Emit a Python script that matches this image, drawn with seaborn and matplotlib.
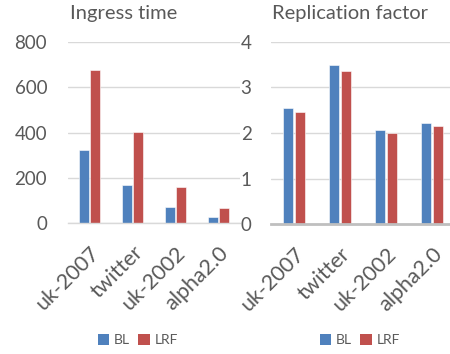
import matplotlib
matplotlib.use("Agg")
import matplotlib.pyplot as plt
import seaborn as sns
import pandas as pd
from matplotlib.patches import Patch

categories = ["uk-2007", "twitter", "uk-2002", "alpha2.0"]
series = ["BL", "LRF"]
ingress_bl = [321, 167, 71, 28]
ingress_lrf = [676, 402, 158, 65]
repl_bl = [2.55, 3.48, 2.07, 2.23]
repl_lrf = [2.45, 3.36, 1.99, 2.15]
ingress_ticks = [0, 200, 400, 600, 800]
repl_ticks = [0, 1, 2, 3, 4]
titles = ["Ingress time", "Replication factor"]

colors = {"BL": "#4F81BD", "LRF": "#C0504D"}
text_col = "#595959"
grid_col = "#D9D9D9"

sns.set_theme(style="white")
plt.rcParams["font.family"] = ["Lato", "DejaVu Sans"]

def make_df(bl, lrf):
    return pd.DataFrame({
        "cat": categories * 2,
        "series": ["BL"] * len(categories) + ["LRF"] * len(categories),
        "val": list(bl) + list(lrf),
    })

fig = plt.figure(figsize=(4.5, 3.54), dpi=100)
ax1 = fig.add_axes([68/450, 1-223/354, (240-68)/450, (223-42)/354])
ax2 = fig.add_axes([271/450, 1-224.3/354, (455-271)/450, (224.3-41.7)/354])

for ax, bl, lrf, ticks, title, tx, pad, basecol, basew in [
    (ax1, ingress_bl, ingress_lrf, ingress_ticks, titles[0], 70, 15, grid_col, 1.0),
    (ax2, repl_bl, repl_lrf, repl_ticks, titles[1], 272, 14, "#BFBFBF", 2.0),
]:
    df = make_df(bl, lrf)
    sns.barplot(data=df, x="cat", y="val", hue="series", palette=colors,
                saturation=1, width=0.52, gap=0.12, ax=ax, legend=False,
                edgecolor="white", linewidth=0.4, zorder=3)
    ax.set_ylim(ticks[0], ticks[-1])
    ax.set_xlim(-0.5, 3.5)
    ax.set_yticks(ticks)
    ax.set_xlabel("")
    ax.set_ylabel("")
    for s in ["top", "right", "left"]:
        ax.spines[s].set_visible(False)
    ax.spines["bottom"].set_color(basecol)
    ax.spines["bottom"].set_linewidth(basew)
    ax.spines["bottom"].set_zorder(4)
    ax.yaxis.grid(True, color=grid_col, linewidth=1.0, zorder=0)
    ax.set_axisbelow(True)
    ax.tick_params(axis="y", length=0, pad=pad, labelsize=13.5, labelcolor=text_col)
    ax.tick_params(axis="x", length=0, pad=14, labelsize=15.5, labelcolor=text_col)
    plt.setp(ax.get_xticklabels(), rotation=45, ha="right", rotation_mode="anchor")
    fig.text(tx/450, 1-14/354, title, fontsize=14.5, color=text_col,
             ha="left", va="center")

handles = [Patch(facecolor=colors[s], edgecolor="none") for s in series]
for cx in [138, 360]:
    fig.legend(handles, series, loc="center", bbox_to_anchor=(cx/450, 1-340/354),
               ncol=2, frameon=False, fontsize=10, labelcolor=text_col,
               handlelength=0.8, handleheight=0.8, handletextpad=0.35,
               columnspacing=0.6, borderpad=0)

fig.savefig("out.png", dpi=100)
